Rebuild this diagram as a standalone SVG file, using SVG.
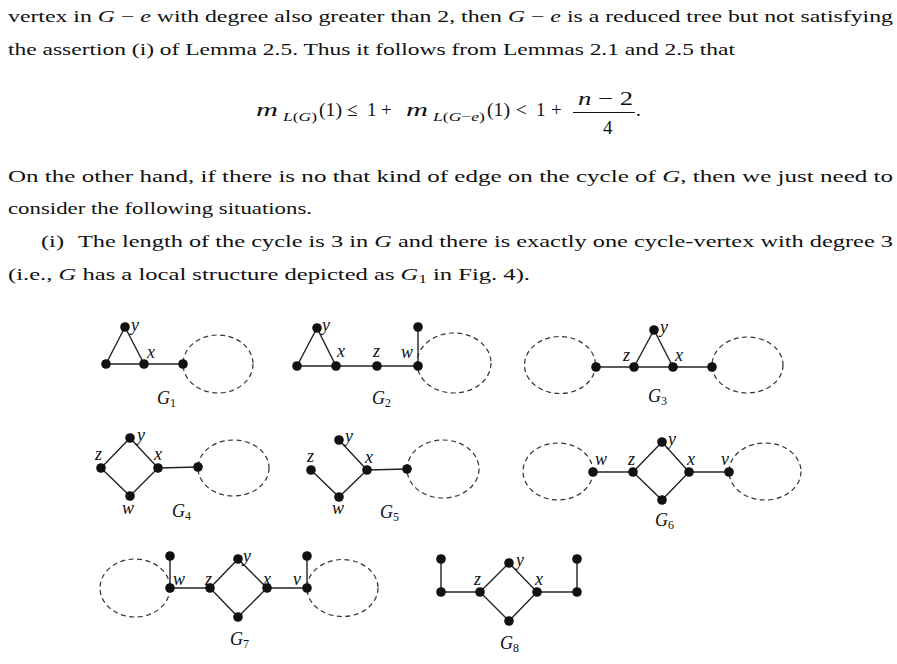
<svg xmlns="http://www.w3.org/2000/svg" width="897" height="664" viewBox="0 0 897 664">
<style>
.t{font-family:"Liberation Serif","DejaVu Serif",serif;font-size:17.5px;fill:#111}
.i{font-style:italic}
.m{font-family:"Liberation Serif","DejaVu Serif",serif;font-size:19px;fill:#111}
.ms{font-size:13.5px}
.lb{font-family:"Liberation Serif","DejaVu Serif",serif;font-style:italic;font-size:18px;fill:#111}
.sub{font-style:normal;font-size:12px}
.e{stroke:#222;stroke-width:1.4;fill:none}
.d{stroke:#333;stroke-width:1.2;fill:none;stroke-dasharray:5 3.5}
.n{fill:#111}
</style>
<rect width="897" height="664" fill="#fff"/>
<g id="text">
<text class="t" x="8" y="22" textLength="885" lengthAdjust="spacingAndGlyphs">vertex in <tspan class="i">G</tspan> − <tspan class="i">e</tspan> with degree also greater than 2, then <tspan class="i">G</tspan> − <tspan class="i">e</tspan> is a reduced tree but not satisfying</text>
<text class="t" x="8" y="55" textLength="727" lengthAdjust="spacingAndGlyphs">the assertion (i) of Lemma 2.5. Thus it follows from Lemmas 2.1 and 2.5 that</text>
<g id="formula">
<text class="m i" x="256" y="116" font-size="22" textLength="22" lengthAdjust="spacingAndGlyphs">m</text>
<text class="m ms" x="283" y="121" textLength="34" lengthAdjust="spacingAndGlyphs"><tspan class="i">L</tspan>(<tspan class="i">G</tspan>)</text>
<text class="m" x="319" y="116" textLength="23" lengthAdjust="spacingAndGlyphs">(1)</text>
<text class="m" x="347" y="116" font-size="21">≤</text>
<text class="m" x="367" y="116">1</text>
<text class="m" x="381" y="116">+</text>
<text class="m i" x="406" y="116" font-size="22" textLength="22" lengthAdjust="spacingAndGlyphs">m</text>
<text class="m ms" x="433" y="121" textLength="52" lengthAdjust="spacingAndGlyphs"><tspan class="i">L</tspan>(<tspan class="i">G</tspan>−<tspan class="i">e</tspan>)</text>
<text class="m" x="487" y="116" textLength="23" lengthAdjust="spacingAndGlyphs">(1)</text>
<text class="m" x="516" y="116" font-size="21">&lt;</text>
<text class="m" x="536" y="116">1</text>
<text class="m" x="551" y="116">+</text>
<text class="m" x="578" y="105" textLength="55" lengthAdjust="spacingAndGlyphs"><tspan class="i">n</tspan> − 2</text>
<line x1="573" y1="112.5" x2="635" y2="112.5" stroke="#111" stroke-width="1.1"/>
<text class="m" x="603" y="134">4</text>
<text class="m" x="636" y="116">.</text>
</g>
<text class="t" x="8" y="182" textLength="885" lengthAdjust="spacingAndGlyphs">On the other hand, if there is no that kind of edge on the cycle of <tspan class="i">G</tspan>, then we just need to</text>
<text class="t" x="8" y="214" textLength="304" lengthAdjust="spacingAndGlyphs">consider the following situations.</text>
<text class="t" x="41" y="247" textLength="852" lengthAdjust="spacingAndGlyphs">(i) <tspan dx="6">The length of the cycle is 3 in </tspan><tspan class="i">G</tspan> and there is exactly one cycle-vertex with degree 3</text>
<text class="t" x="8" y="280" textLength="522" lengthAdjust="spacingAndGlyphs">(i.e., <tspan class="i">G</tspan> has a local structure depicted as <tspan class="i">G</tspan><tspan font-size="12" dy="3">1</tspan><tspan dy="-3"> in Fig. 4).</tspan></text>
</g>

<!-- G1 -->
<g id="G1">
<g class="connectors">
<polygon class="e" points="106,364 125,327 144,364"/>
<line class="e" x1="144" y1="364" x2="183" y2="364"/>
<ellipse class="d" cx="218" cy="364" rx="35" ry="29"/>
</g>
<g id="g1-a"><circle class="n" cx="106" cy="364" r="4.8"/></g>
<g id="g1-y"><circle class="n" cx="125" cy="327" r="4.8"/><text class="lb" x="131" y="331">y</text></g>
<g id="g1-x"><circle class="n" cx="144" cy="364" r="4.8"/><text class="lb" x="147" y="358">x</text></g>
<g id="g1-b"><circle class="n" cx="183" cy="364" r="4.8"/></g>
<text class="lb" x="157" y="404">G<tspan class="sub" dy="3">1</tspan></text>
</g>

<!-- G2 -->
<g id="G2">
<g class="connectors">
<polygon class="e" points="297,366 317,328 336,366"/>
<line class="e" x1="336" y1="366" x2="418" y2="366"/>
<line class="e" x1="418" y1="366" x2="418" y2="327"/>
<ellipse class="d" cx="454" cy="363" rx="37" ry="30"/>
</g>
<g id="g2-a"><circle class="n" cx="297" cy="366" r="4.8"/></g>
<g id="g2-y"><circle class="n" cx="317" cy="328" r="4.8"/><text class="lb" x="322" y="331">y</text></g>
<g id="g2-x"><circle class="n" cx="336" cy="366" r="4.8"/><text class="lb" x="337" y="357">x</text></g>
<g id="g2-z"><circle class="n" cx="377" cy="366" r="4.8"/><text class="lb" x="373" y="357">z</text></g>
<g id="g2-w"><circle class="n" cx="418" cy="366" r="4.8"/><text class="lb" x="401" y="358">w</text></g>
<g id="g2-t"><circle class="n" cx="418" cy="327" r="4.8"/></g>
<text class="lb" x="372" y="404">G<tspan class="sub" dy="3">2</tspan></text>
</g>

<!-- G3 -->
<g id="G3">
<g class="connectors">
<ellipse class="d" cx="560" cy="365" rx="35.5" ry="28.5"/>
<line class="e" x1="596" y1="367" x2="712" y2="367"/>
<polyline class="e" points="634,367 654,330 673,367"/>
<ellipse class="d" cx="747.5" cy="365" rx="35.5" ry="28"/>
</g>
<g id="g3-a"><circle class="n" cx="596" cy="367" r="4.8"/></g>
<g id="g3-z"><circle class="n" cx="634" cy="367" r="4.8"/><text class="lb" x="623" y="361">z</text></g>
<g id="g3-y"><circle class="n" cx="654" cy="330" r="4.8"/><text class="lb" x="660" y="333">y</text></g>
<g id="g3-x"><circle class="n" cx="673" cy="367" r="4.8"/><text class="lb" x="675" y="361">x</text></g>
<g id="g3-b"><circle class="n" cx="712" cy="367" r="4.8"/></g>
<text class="lb" x="648" y="402">G<tspan class="sub" dy="3">3</tspan></text>
</g>

<!-- G4 -->
<g id="G4">
<g class="connectors">
<polygon class="e" points="101,468 130,438 158,468 130,496"/>
<line class="e" x1="158" y1="468" x2="198" y2="467"/>
<ellipse class="d" cx="233.5" cy="468" rx="35.5" ry="28"/>
</g>
<g id="g4-z"><circle class="n" cx="101" cy="468" r="4.8"/><text class="lb" x="95" y="460">z</text></g>
<g id="g4-y"><circle class="n" cx="130" cy="438" r="4.8"/><text class="lb" x="137" y="441">y</text></g>
<g id="g4-x"><circle class="n" cx="158" cy="468" r="4.8"/><text class="lb" x="154" y="460">x</text></g>
<g id="g4-w"><circle class="n" cx="130" cy="496" r="4.8"/><text class="lb" x="122" y="514">w</text></g>
<g id="g4-a"><circle class="n" cx="198" cy="467" r="4.8"/></g>
<text class="lb" x="172" y="517">G<tspan class="sub" dy="3">4</tspan></text>
</g>

<!-- G5 -->
<g id="G5">
<g class="connectors">
<polyline class="e" points="339,440 367,470 339,497 311,470"/>
<line class="e" x1="367" y1="470" x2="407" y2="469"/>
<ellipse class="d" cx="443" cy="469" rx="36" ry="29"/>
</g>
<g id="g5-y"><circle class="n" cx="339" cy="440" r="4.8"/><text class="lb" x="345" y="442">y</text></g>
<g id="g5-z"><circle class="n" cx="311" cy="470" r="4.8"/><text class="lb" x="307" y="462">z</text></g>
<g id="g5-x"><circle class="n" cx="367" cy="470" r="4.8"/><text class="lb" x="365" y="463">x</text></g>
<g id="g5-w"><circle class="n" cx="339" cy="497" r="4.8"/><text class="lb" x="332" y="514">w</text></g>
<g id="g5-a"><circle class="n" cx="407" cy="469" r="4.8"/></g>
<text class="lb" x="380" y="518">G<tspan class="sub" dy="3">5</tspan></text>
</g>

<!-- G6 -->
<g id="G6">
<g class="connectors">
<ellipse class="d" cx="558" cy="471.5" rx="35" ry="28.5"/>
<line class="e" x1="593" y1="472" x2="633" y2="472"/>
<polygon class="e" points="633,472 662,442 689,472 662,500"/>
<line class="e" x1="689" y1="472" x2="729" y2="472"/>
<ellipse class="d" cx="765" cy="471.5" rx="36" ry="28.5"/>
</g>
<g id="g6-w"><circle class="n" cx="593" cy="472" r="4.8"/><text class="lb" x="595" y="465">w</text></g>
<g id="g6-z"><circle class="n" cx="633" cy="472" r="4.8"/><text class="lb" x="628" y="465">z</text></g>
<g id="g6-y"><circle class="n" cx="662" cy="442" r="4.8"/><text class="lb" x="668" y="445">y</text></g>
<g id="g6-x"><circle class="n" cx="689" cy="472" r="4.8"/><text class="lb" x="687" y="465">x</text></g>
<g id="g6-b"><circle class="n" cx="662" cy="500" r="4.8"/></g>
<g id="g6-v"><circle class="n" cx="729" cy="472" r="4.8"/><text class="lb" x="721" y="465">v</text></g>
<text class="lb" x="655" y="526">G<tspan class="sub" dy="3">6</tspan></text>
</g>

<!-- G7 -->
<g id="G7">
<g class="connectors">
<ellipse class="d" cx="135" cy="588" rx="35" ry="29"/>
<line class="e" x1="170" y1="556" x2="170" y2="588"/>
<line class="e" x1="170" y1="588" x2="210" y2="588"/>
<polygon class="e" points="210,588 238,559 267,588 238,617"/>
<line class="e" x1="267" y1="588" x2="307" y2="588"/>
<line class="e" x1="307" y1="556" x2="307" y2="588"/>
<ellipse class="d" cx="342.5" cy="588" rx="35.5" ry="28.5"/>
</g>
<g id="g7-wt"><circle class="n" cx="170" cy="556" r="4.8"/></g>
<g id="g7-w"><circle class="n" cx="170" cy="588" r="4.8"/><text class="lb" x="173" y="585">w</text></g>
<g id="g7-z"><circle class="n" cx="210" cy="588" r="4.8"/><text class="lb" x="205" y="585">z</text></g>
<g id="g7-y"><circle class="n" cx="238" cy="559" r="4.8"/><text class="lb" x="243" y="562">y</text></g>
<g id="g7-x"><circle class="n" cx="267" cy="588" r="4.8"/><text class="lb" x="263" y="585">x</text></g>
<g id="g7-b"><circle class="n" cx="238" cy="617" r="4.8"/></g>
<g id="g7-v"><circle class="n" cx="307" cy="588" r="4.8"/><text class="lb" x="293" y="585">v</text></g>
<g id="g7-vt"><circle class="n" cx="307" cy="556" r="4.8"/></g>
<text class="lb" x="230" y="645">G<tspan class="sub" dy="3">7</tspan></text>
</g>

<!-- G8 -->
<g id="G8">
<g class="connectors">
<line class="e" x1="441" y1="559" x2="441" y2="592"/>
<line class="e" x1="441" y1="592" x2="480" y2="592"/>
<polygon class="e" points="480,592 509,563 537,592 509,621"/>
<line class="e" x1="537" y1="592" x2="577" y2="592"/>
<line class="e" x1="577" y1="559" x2="577" y2="592"/>
</g>
<g id="g8-lt"><circle class="n" cx="441" cy="559" r="4.8"/></g>
<g id="g8-l"><circle class="n" cx="441" cy="592" r="4.8"/></g>
<g id="g8-z"><circle class="n" cx="480" cy="592" r="4.8"/><text class="lb" x="474" y="585">z</text></g>
<g id="g8-y"><circle class="n" cx="509" cy="563" r="4.8"/><text class="lb" x="516" y="566">y</text></g>
<g id="g8-x"><circle class="n" cx="537" cy="592" r="4.8"/><text class="lb" x="535" y="585">x</text></g>
<g id="g8-b"><circle class="n" cx="509" cy="621" r="4.8"/></g>
<g id="g8-r"><circle class="n" cx="577" cy="592" r="4.8"/></g>
<g id="g8-rt"><circle class="n" cx="577" cy="559" r="4.8"/></g>
<text class="lb" x="500" y="649">G<tspan class="sub" dy="3">8</tspan></text>
</g>
</svg>
